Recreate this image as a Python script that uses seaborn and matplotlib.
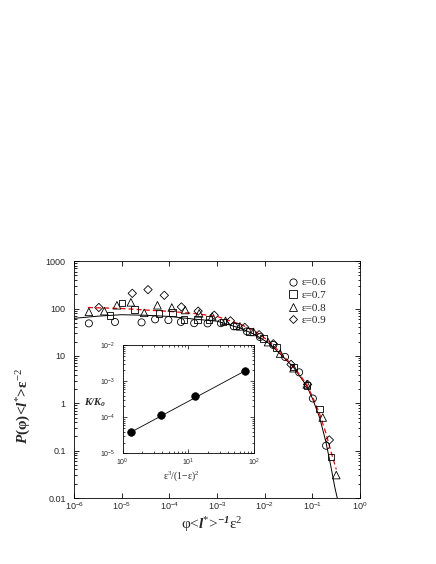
import numpy as np
import pandas as pd
import matplotlib
matplotlib.use("Agg")
import matplotlib.pyplot as plt
import seaborn as sns
from matplotlib.ticker import LogLocator, FuncFormatter, NullFormatter, NullLocator
from matplotlib.lines import Line2D

# ---------------- data ----------------
series_labels = ["ε=0.6", "ε=0.7", "ε=0.8", "ε=0.9"]

x_e06 = [2.04e-6, 7.2e-6, 2.6e-5, 5.0e-5, 9.5e-5, 1.74e-4, 3.3e-4, 6.3e-4, 1.2e-3,
         2.24e-3, 4.2e-3, 7.9e-3, 0.0151, 0.0266, 0.0525, 0.102, 0.193]
y_e06 = [48.5, 52, 51, 59, 57, 52, 49, 48.5, 49,
         42, 33, 25, 17, 9.5, 4.5, 1.26, 0.127]

x_e07 = [5.7e-6, 1.02e-5, 1.86e-5, 6.0e-5, 1.15e-4, 2.04e-4, 3.9e-4, 6.8e-4, 1.32e-3,
         2.5e-3, 4.8e-3, 9.3e-3, 0.0178, 0.040, 0.076, 0.14, 0.242]
y_e07 = [72, 132, 95, 79, 83, 59, 59, 59, 52,
         43, 33, 23, 15, 5.8, 2.4, 0.76, 0.074]

x_e08 = [2.04e-6, 4.3e-6, 7.9e-6, 1.55e-5, 2.95e-5, 5.6e-5, 1.12e-4, 2.14e-4, 4.2e-4,
         7.9e-4, 1.5e-3, 3.0e-3, 5.8e-3, 0.0117, 0.021, 0.040, 0.076, 0.164, 0.316]
y_e08 = [85, 88, 117, 135, 81, 117, 105, 93, 79,
         68, 55, 42, 32, 19.5, 11.2, 5.5, 2.5, 0.50, 0.0305]

x_e09 = [3.3e-6, 1.66e-5, 3.55e-5, 7.8e-5, 1.78e-4, 4.0e-4, 8.7e-4, 1.9e-3,
         3.8e-3, 7.6e-3, 0.0151, 0.0355, 0.079, 0.226]
y_e09 = [105, 209, 250, 190, 108, 88, 72, 55,
         40, 28, 18, 6.6, 2.5, 0.168]

# solid black fit curve
fit_black_x = [1e-6, 3.16e-6, 1e-5, 3.16e-5, 1e-4, 3.16e-4, 1e-3, 3.16e-3, 6.3e-3,
               0.0126, 0.021, 0.040, 0.076, 0.102, 0.141, 0.19, 0.24, 0.295, 0.34]
fit_black_y = [62, 69, 74, 72, 68, 60, 54, 38, 28,
               18, 11, 5.75, 2.3, 1.2, 0.5, 0.158, 0.05, 0.0166, 0.0089]

# red dashed fit curve
fit_red_x = [1.95e-6, 1e-5, 3.16e-5, 1e-4, 3.16e-4, 1e-3, 3.16e-3, 6.3e-3,
             0.0126, 0.021, 0.040, 0.076, 0.102, 0.141, 0.19, 0.25, 0.316]
fit_red_y = [105, 100, 93, 87, 79, 68, 46, 33,
             20, 11.7, 6.0, 2.5, 1.32, 0.60, 0.24, 0.089, 0.040]

# inset: K/K0 vs eps^3/(1-eps)^2
inset_x = [1.35, 3.81, 12.8, 72.9]
inset_y = [4.0e-5, 1.15e-4, 3.9e-4, 1.95e-3]
inset_fit_x = [1.35, 72.9]
inset_fit_y = [3.9e-5, 1.95e-3]

main_xticks = [1e-6, 1e-5, 1e-4, 1e-3, 1e-2, 1e-1, 1e0]
main_yticks = [0.01, 0.1, 1, 10, 100, 1000]
main_ytick_labels = ["0.01", "0.1", "1", "10", "100", "1000"]
inset_xticks = [1, 10, 100]
inset_yticks = [1e-5, 1e-4, 1e-3, 1e-2]

# ---------------- style ----------------
sns.set_theme(style="ticks")
plt.rcParams["font.family"] = ["Liberation Serif", "DejaVu Serif"]
plt.rcParams["mathtext.fontset"] = "custom"
plt.rcParams["mathtext.rm"] = "Liberation Serif"
plt.rcParams["mathtext.it"] = "Liberation Serif:italic"
plt.rcParams["mathtext.bf"] = "Liberation Serif:italic:bold"
plt.rcParams["mathtext.sf"] = "Liberation Sans"
plt.rcParams["axes.linewidth"] = 0.6
plt.rcParams["axes.edgecolor"] = "black"

fig = plt.figure(figsize=(4.36, 5.64), dpi=100)
fig.patch.set_facecolor("white")
ax = fig.add_axes([0.170, 0.117, 0.656, 0.420])
ax.set_facecolor("white")
ax.set_xscale("log")
ax.set_yscale("log")

frames = []
for lab, xs, ys in zip(series_labels, [x_e06, x_e07, x_e08, x_e09], [y_e06, y_e07, y_e08, y_e09]):
    frames.append(pd.DataFrame({"x": xs, "y": ys, "series": lab}))
df = pd.concat(frames, ignore_index=True)
marker_map = dict(zip(series_labels, ["o", "s", "^", "D"]))
size_map = {"o": 26, "s": 22, "^": 30, "D": 18}

sns.lineplot(x=fit_black_x, y=fit_black_y, color="black", lw=0.7, estimator=None,
             sort=False, ax=ax)
sns.lineplot(x=fit_red_x, y=fit_red_y, color="red", lw=0.9, estimator=None,
             sort=False, linestyle=(0, (4, 2.5)), ax=ax)

for lab in series_labels:
    sub = df[df["series"] == lab]
    m = marker_map[lab]
    sns.scatterplot(data=sub, x="x", y="y", marker=m, s=size_map[m],
                    facecolor="none", edgecolor="black", linewidth=0.6, ax=ax,
                    legend=False, zorder=3)

ax.set_xlim(1e-6, 1)
ax.set_ylim(0.01, 1000)

sans = "Liberation Sans"
ax.set_xticks(main_xticks)
ax.xaxis.set_minor_locator(NullLocator())
ax.xaxis.set_major_formatter(FuncFormatter(lambda v, p: r"$\mathsf{10^{%d}}$" % int(round(np.log10(v)))))
ax.set_yticks(main_yticks)
ax.set_yticklabels(main_ytick_labels)
ax.yaxis.set_minor_locator(LogLocator(base=10, subs=np.arange(2, 10), numticks=20))
ax.yaxis.set_minor_formatter(NullFormatter())
ax.tick_params(axis="both", which="both", direction="in", top=True, right=True,
               width=0.6, color="black", labelfontfamily=sans)
ax.tick_params(axis="both", which="major", length=3.5)
ax.tick_params(axis="both", which="minor", length=1.8)
ax.tick_params(axis="x", which="major", pad=1.5, labelsize=6.5)
ax.tick_params(axis="y", which="major", pad=6, labelsize=6.5)
for s in ax.spines.values():
    s.set_linewidth(0.6)
    s.set_color("black")

ax.set_ylabel(r"$\mathbf{P}$(φ)<$\mathbf{l}^{*}$>ε$^{-2}$", fontsize=11,
              fontweight="bold")
ax.yaxis.set_label_coords(-0.143, 0.388)
ax.set_xlabel(r"φ<$\mathbf{l}^{*}$>$^{\mathbf{-1}}$ε$^{2}$", fontsize=11)
ax.xaxis.set_label_coords(0.48, -0.072)

handles = [Line2D([], [], ls="none", marker=marker_map[l], mfc="none", mec="black",
                  mew=0.6, ms=(5.2 if marker_map[l] != "D" else 4.3)) for l in series_labels]
ax.legend(handles, series_labels, loc="upper left", bbox_to_anchor=(0.746, 0.93),
          frameon=False, fontsize=8, handlelength=1.0, handletextpad=0.3,
          labelspacing=0.25, borderpad=0, borderaxespad=0)

# ---------------- inset ----------------
ins = fig.add_axes([0.281, 0.196, 0.302, 0.192])
ins.set_facecolor("white")
ins.set_xscale("log")
ins.set_yscale("log")
sns.lineplot(x=inset_fit_x, y=inset_fit_y, color="black", lw=0.6, estimator=None,
             sort=False, ax=ins)
sns.scatterplot(x=inset_x, y=inset_y, color="black", s=30, marker="o",
                edgecolor="black", linewidth=0.5, ax=ins, legend=False, zorder=3)
ins.set_xlim(1, 100)
ins.set_ylim(1e-5, 1e-2)
ins.set_xticks(inset_xticks)
ins.set_yticks(inset_yticks)
ins.xaxis.set_minor_locator(LogLocator(base=10, subs=np.arange(2, 10), numticks=20))
ins.yaxis.set_minor_locator(LogLocator(base=10, subs=np.arange(2, 10), numticks=20))
ins.xaxis.set_minor_formatter(NullFormatter())
ins.yaxis.set_minor_formatter(NullFormatter())
fmt = FuncFormatter(lambda v, p: r"$\mathsf{10^{%d}}$" % int(round(np.log10(v))))
ins.xaxis.set_major_formatter(fmt)
ins.yaxis.set_major_formatter(fmt)
ins.tick_params(axis="both", which="both", direction="in", top=True, right=True,
                width=0.5, color="black", labelsize=5, labelfontfamily=sans)
ins.tick_params(axis="both", which="major", length=3)
ins.tick_params(axis="both", which="minor", length=1.5)
ins.tick_params(axis="x", which="major", pad=2)
ins.tick_params(axis="y", which="major", pad=5)
for s in ins.spines.values():
    s.set_linewidth(0.6)
    s.set_color("black")
ins.set_xlabel(r"ε$^{3}$/(1−ε)$^{2}$", fontsize=7)
ins.xaxis.set_label_coords(0.45, -0.145)
ins.set_ylabel(r"$\mathbf{K/K_{0}}$", fontsize=7.5, rotation=0, va="center", ha="center")
ins.yaxis.set_label_coords(-0.21, 0.464)

fig.savefig("out.png", dpi=100, facecolor="white")
